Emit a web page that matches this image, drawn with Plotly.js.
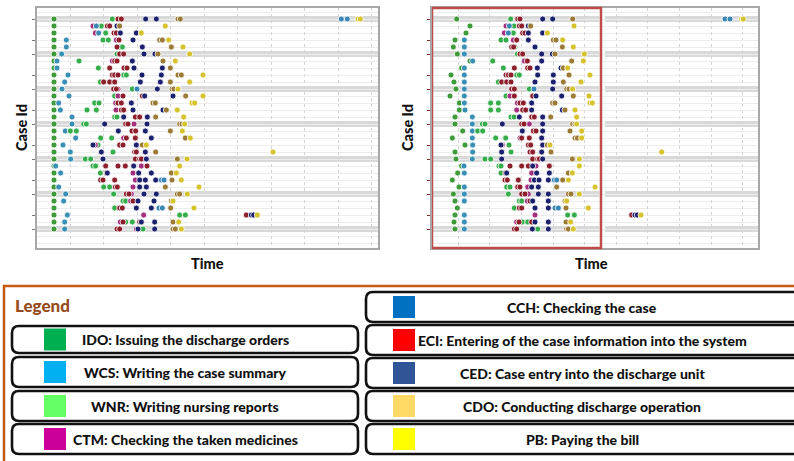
<!DOCTYPE html>
<html><head><meta charset="utf-8">
<script src="https://cdn.plot.ly/plotly-3.0.1.min.js"></script>
<style>html,body{margin:0;padding:0;background:#fff}#chart{width:794px;height:461px}</style>
</head><body><div id="chart"></div>
<script>
// ---- Data: [case id, time] pairs (time in arbitrary units) ----
// Left panel
const L_IDO = [[1,1.63],[2,1.63],[3,1.63],[4,1.63],[5,1.63],[6,1.63],[7,1.63],[8,1.63],[9,1.63],[10,1.63],[11,1.63],[12,1.63],[13,1.63],[14,1.63],[15,1.63],[16,1.63],[17,1.63],[18,1.63],[19,1.63],[20,1.63],[21,1.63],[22,1.63],[23,1.63],[24,1.63],[25,1.63],[26,1.63],[27,1.63],[28,1.63],[29,1.63],[30,1.63],[31,1.63]];
const L_WCS = [[4,2.00],[5,2.00],[6,1.86],[7,1.72],[8,1.72],[9,2.05],[10,1.95],[11,1.87],[12,2.08],[13,1.77],[14,1.82],[15,2.17],[16,2.17],[17,1.97],[18,2.28],[19,1.90],[20,2.12],[21,2.13],[22,1.68],[23,1.83],[25,1.77],[26,1.98],[27,1.92],[29,2.03],[30,1.95],[31,1.95]];
const L_WNR = [[1,3.38],[2,3.05],[3,3.18],[4,3.10],[4,3.26],[5,3.60],[5,3.68],[6,3.52],[7,2.38],[8,2.96],[9,3.72],[9,3.80],[10,3.02],[11,3.98],[12,3.45],[13,2.85],[13,2.98],[14,2.62],[14,2.90],[15,3.45],[15,3.52],[16,2.52],[16,2.60],[17,2.12],[17,2.30],[18,3.03],[18,3.36],[19,2.95],[20,3.40],[21,2.57],[21,2.73],[22,2.80],[22,2.88],[23,3.02],[25,3.12],[25,3.30],[26,3.42],[27,3.70],[27,3.78],[28,3.45],[29,5.40],[29,5.57],[30,3.78],[30,3.98],[31,4.30]];
const L_CTM = [[2,2.80],[3,2.87],[4,3.50],[7,3.38],[11,3.55],[12,3.55],[13,3.48],[14,3.49],[16,4.03],[18,3.72],[19,2.87],[22,4.25],[23,4.00],[24,4.07],[25,4.00],[26,3.95],[27,3.93],[29,4.32],[30,3.62],[31,4.10]];
const L_CCH = [[1,10.25],[1,10.43],[2,2.90],[3,2.97],[11,4.12],[24,4.85],[24,4.93],[28,4.78],[28,4.88]];
const L_ECI = [[1,3.55],[1,3.65],[2,3.23],[2,3.30],[3,3.43],[3,3.50],[4,3.58],[5,3.52],[6,3.60],[6,3.72],[7,3.45],[7,3.52],[8,3.30],[8,3.73],[8,3.82],[9,3.38],[9,3.45],[9,3.55],[10,3.12],[10,3.30],[10,3.45],[11,3.42],[11,3.50],[12,3.70],[12,4.28],[13,3.55],[13,3.65],[14,3.65],[14,3.72],[15,4.07],[15,4.20],[16,3.78],[16,3.85],[17,3.97],[17,4.08],[18,3.80],[18,4.07],[19,3.60],[19,3.70],[20,4.05],[20,4.10],[21,4.07],[21,4.20],[21,4.25],[22,3.18],[22,3.55],[22,3.77],[22,4.42],[23,3.20],[24,3.03],[24,3.10],[24,3.45],[25,3.47],[25,3.53],[26,3.80],[26,3.88],[27,4.00],[28,3.60],[28,3.68],[29,7.40],[30,3.70],[30,4.20],[31,3.52],[31,3.60]];
const L_CED = [[1,4.38],[1,4.70],[2,3.52],[3,3.62],[3,4.10],[4,4.00],[5,4.28],[6,4.33],[6,4.66],[7,3.98],[8,4.03],[8,4.88],[9,4.27],[9,4.85],[10,4.22],[10,4.82],[11,4.73],[12,4.35],[12,5.20],[13,3.95],[14,4.00],[14,4.90],[15,3.72],[15,4.43],[16,3.15],[16,4.42],[17,3.56],[17,4.37],[18,4.55],[19,2.80],[19,4.10],[20,3.05],[20,4.37],[21,3.10],[21,4.40],[22,4.02],[23,3.23],[23,4.17],[23,4.55],[24,4.20],[24,4.37],[24,4.68],[25,4.20],[25,4.40],[26,4.33],[26,4.70],[27,4.15],[27,4.63],[28,4.10],[28,4.55],[29,7.55],[29,7.62],[30,4.25],[30,4.65],[31,4.15],[31,4.65]];
const L_CDO = [[1,5.35],[1,5.42],[2,3.60],[4,4.80],[4,4.88],[5,5.15],[6,4.75],[7,4.90],[8,5.12],[9,5.35],[9,5.45],[10,5.12],[11,5.17],[11,5.23],[12,5.58],[13,4.60],[13,4.67],[14,5.00],[15,4.68],[16,5.40],[16,5.47],[17,5.12],[18,5.57],[19,4.28],[20,4.68],[21,5.33],[23,5.15],[24,5.17],[25,4.97],[26,5.33],[26,5.40],[27,5.15],[28,5.13],[30,5.20],[31,5.20],[31,5.27]];
const L_PB = [[1,10.75],[1,10.82],[2,4.97],[3,4.25],[4,5.07],[5,5.50],[6,5.70],[7,5.27],[9,6.10],[10,5.70],[11,5.35],[12,6.10],[13,5.77],[13,5.85],[14,5.33],[15,5.52],[16,5.55],[17,5.48],[18,5.72],[19,4.40],[20,8.20],[21,5.62],[22,5.40],[23,5.30],[24,5.45],[25,5.98],[26,5.63],[27,5.20],[28,5.83],[29,7.73],[30,5.37],[31,5.45]];
// Right panel
const R_IDO = [[1,1.85],[2,2.25],[3,2.13],[4,1.80],[5,1.75],[6,1.87],[7,2.25],[8,2.00],[9,1.68],[10,1.77],[11,1.83],[12,1.65],[13,1.93],[14,1.93],[15,1.80],[16,1.80],[17,2.03],[18,1.72],[19,2.10],[20,1.80],[21,1.83],[22,2.00],[23,1.88],[24,1.72],[25,1.92],[26,1.75],[27,1.80],[28,1.87],[29,1.80],[30,1.77],[31,1.80]];
const R_WCS = [[4,2.08],[5,2.08],[6,2.08],[7,2.33],[8,2.08],[9,2.08],[10,2.08],[11,2.08],[12,2.08],[13,2.08],[14,2.10],[15,2.32],[16,2.32],[17,2.32],[18,2.32],[19,2.33],[20,2.33],[21,2.32],[22,2.07],[23,2.08],[25,2.08],[26,2.08],[27,2.08],[29,2.08],[30,2.08],[31,2.08]];
const R_WNR = [[1,3.47],[2,3.57],[3,3.55],[4,3.18],[4,3.33],[5,3.60],[6,3.67],[7,2.93],[8,3.25],[9,3.65],[9,3.73],[10,3.10],[11,4.03],[12,3.33],[13,2.87],[13,3.10],[14,2.87],[14,3.10],[15,3.48],[15,3.57],[16,2.62],[16,2.70],[17,2.48],[17,2.63],[18,3.02],[18,3.32],[19,3.42],[20,3.48],[21,2.70],[21,2.87],[22,3.12],[22,3.18],[23,3.18],[25,3.35],[25,3.45],[26,3.40],[27,3.73],[27,3.80],[28,3.58],[29,5.18],[29,5.38],[30,3.82],[30,3.98],[31,4.28]];
const R_CTM = [[2,3.33],[3,3.28],[4,3.55],[7,3.88],[12,3.45],[13,3.67],[14,3.65],[16,4.03],[18,3.75],[19,3.22],[22,4.23],[23,4.10],[24,4.08],[25,3.98],[26,4.00],[27,3.97],[29,4.20],[30,3.65],[31,4.10]];
const R_CCH = [[1,9.90],[1,10.05],[2,3.43],[3,3.40],[11,4.17],[24,4.78],[24,4.85],[28,4.80],[28,4.90]];
const R_ECI = [[1,3.68],[1,3.75],[2,3.73],[2,3.80],[3,3.83],[3,3.90],[4,3.65],[5,3.50],[5,3.56],[6,3.75],[6,3.83],[7,3.97],[8,3.58],[8,3.98],[8,4.05],[9,3.33],[9,3.40],[9,3.48],[10,3.20],[10,3.35],[10,3.48],[11,3.50],[11,3.58],[12,3.58],[12,4.13],[13,3.75],[13,3.85],[14,3.83],[14,3.92],[15,4.10],[15,4.18],[16,3.80],[16,3.87],[17,4.15],[17,4.23],[18,3.80],[18,4.03],[19,4.00],[19,4.07],[20,4.05],[20,4.13],[21,4.13],[21,4.28],[21,4.33],[22,3.45],[22,3.80],[22,4.00],[22,4.63],[23,3.32],[24,3.30],[24,3.37],[24,3.70],[25,3.68],[25,3.75],[26,3.80],[26,3.90],[27,4.05],[28,3.73],[28,3.80],[29,7.10],[30,3.72],[30,4.10],[31,3.58],[31,3.65]];
const R_CED = [[1,4.43],[1,4.73],[2,4.00],[3,4.00],[3,4.43],[4,4.00],[5,4.20],[6,4.40],[6,4.72],[7,4.40],[8,4.27],[8,4.98],[9,4.28],[9,4.75],[10,4.20],[10,4.75],[11,4.73],[12,4.23],[12,5.00],[13,4.10],[14,4.10],[14,5.02],[15,3.73],[15,4.43],[16,3.22],[16,4.43],[17,3.82],[17,4.43],[18,4.40],[19,3.18],[19,4.43],[20,3.20],[20,4.40],[21,3.20],[21,4.43],[22,4.13],[23,3.35],[23,4.25],[23,4.63],[24,4.18],[24,4.32],[24,4.60],[25,4.10],[25,4.30],[26,4.30],[26,4.60],[27,4.13],[27,4.60],[28,4.20],[28,4.60],[29,7.20],[29,7.27],[30,4.20],[30,4.60],[31,4.12],[31,4.60]];
const R_CDO = [[1,5.33],[2,4.07],[4,4.75],[4,4.83],[5,5.02],[6,4.80],[7,5.30],[8,5.05],[9,5.22],[10,5.05],[11,5.15],[11,5.22],[12,5.35],[13,4.73],[13,4.80],[14,5.10],[15,4.67],[16,5.33],[16,5.40],[17,5.25],[18,5.40],[18,5.47],[19,4.57],[20,4.68],[21,5.32],[23,5.20],[24,5.03],[25,4.85],[26,5.20],[26,5.28],[27,5.10],[28,5.13],[30,5.13],[31,5.15],[31,5.20]];
const R_PB = [[1,10.40],[1,10.45],[2,5.37],[3,4.57],[4,5.03],[5,5.35],[6,5.68],[7,5.65],[8,5.18],[9,5.85],[10,5.58],[11,5.33],[12,5.82],[13,5.85],[13,5.92],[14,5.40],[15,5.45],[16,5.45],[17,5.60],[18,5.60],[19,4.65],[20,8.00],[21,5.53],[22,5.53],[23,5.32],[24,5.20],[25,6.00],[26,5.53],[27,5.15],[28,5.80],[29,7.38],[30,5.27],[31,5.35]];

const highlightEnd = 6.18; // time where the red selection box ends (right panel)
const stripeRows = [1,6,11,16,21,26,31];
const tickRows = [1,4,6,9,11,14,16,19,21,24,26,29,31];

const legendLeftCodes = ['IDO','WCS','WNR','CTM'];
const legendLeftText = ['IDO: Issuing the discharge orders','WCS: Writing the case summary','WNR: Writing nursing reports','CTM: Checking the taken medicines'];
const legendRightCodes = ['CCH','ECI','CED','CDO','PB'];
const legendRightText = ['CCH: Checking the case','ECI: Entering of the case information into the system','CED: Case entry into the discharge unit','CDO: Conducting discharge operation','PB: Paying the bill'];

// ---- Styles ----
const dotColor = {IDO:'#3f9a3a',WCS:'#3a8fb5',WNR:'#34ad4a',CTM:'#a3307c',CCH:'#3a87b5',ECI:'#8c1f2b',CED:'#1c216e',CDO:'#9b7a36',PB:'#d6c22c'};
const legendColor = {IDO:'#00b050',WCS:'#00b0f0',WNR:'#66ff66',CTM:'#cc0099',CCH:'#0070c0',ECI:'#ff0000',CED:'#2f5597',CDO:'#ffd966',PB:'#ffff00'};

const W = 794, H = 461;
const px = x => x / W, py = y => 1 - y / H;

function mk(data, code, xa, ya) {
  return {type:'scatter', mode:'markers', x:data.map(d=>d[1]), y:data.map(d=>d[0]), xaxis:xa, yaxis:ya,
    marker:{size:6, color:dotColor[code], line:{color:'#ffffff', width:0.8}}, showlegend:false, hoverinfo:'skip'};
}
const leftSets = {IDO:L_IDO,WCS:L_WCS,WNR:L_WNR,CTM:L_CTM,CCH:L_CCH,ECI:L_ECI,CED:L_CED,CDO:L_CDO,PB:L_PB};
const rightSets = {IDO:R_IDO,WCS:R_WCS,WNR:R_WNR,CTM:R_CTM,CCH:R_CCH,ECI:R_ECI,CED:R_CED,CDO:R_CDO,PB:R_PB};
const traces = [];
for (const c of Object.keys(leftSets)) traces.push(mk(leftSets[c], c, 'x', 'y'));
for (const c of Object.keys(rightSets)) traces.push(mk(rightSets[c], c, 'x2', 'y2'));

const yBase = {range:[33.71,-0.571], domain:[py(248), py(8)], showline:true, mirror:true, linecolor:'#a8a8a8', linewidth:2,
  tickmode:'array', tickvals:tickRows, ticks:'outside', ticklen:3, tickwidth:1, tickcolor:'#777', showticklabels:false,
  showgrid:true, gridcolor:'#ececec', zeroline:false, fixedrange:true,
  minor:{tickmode:'linear', tick0:1, dtick:1, showgrid:true, gridcolor:'#ececec', ticks:''}};
const xBase = {showline:true, mirror:true, linecolor:'#a8a8a8', linewidth:2, showgrid:true, gridcolor:'#d4d4d4', griddash:'dot',
  tickmode:'linear', ticks:'', showticklabels:false, zeroline:false, fixedrange:true};

const shapes = [];
for (const r of stripeRows) {
  shapes.push({type:'line', xref:'x domain', yref:'y', x0:0, x1:1, y0:r, y1:r, line:{color:'#d9d9d9', width:6}, layer:'below'});
  shapes.push({type:'line', xref:'x2', yref:'y2', x0:1.11, x1:highlightEnd-0.05, y0:r, y1:r, line:{color:'#d9d9d9', width:6}, layer:'below'});
  shapes.push({type:'line', xref:'x2', yref:'y2', x0:highlightEnd+0.12, x1:10.89, y0:r, y1:r, line:{color:'#d9d9d9', width:6}, layer:'below'});
}
shapes.push({type:'rect', xref:'x2', yref:'y2 domain', x0:1.11, x1:highlightEnd, y0:0, y1:1, line:{color:'#bf4b4a', width:2.5}, layer:'above'});

shapes.push({type:'rect', xref:'paper', yref:'paper', x0:px(4), x1:px(800), y0:py(467), y1:py(286), line:{color:'#c55a11', width:2.5}});
function rr(x0,y0,x1,y1,r){
  const P=(x,y)=>px(x)+','+py(y);
  return 'M'+P(x0+r,y0)+' L'+P(x1-r,y0)+' Q'+P(x1,y0)+' '+P(x1,y0+r)+' L'+P(x1,y1-r)+' Q'+P(x1,y1)+' '+P(x1-r,y1)+
    ' L'+P(x0+r,y1)+' Q'+P(x0,y1)+' '+P(x0,y1-r)+' L'+P(x0,y0+r)+' Q'+P(x0,y0)+' '+P(x0+r,y0)+' Z';
}
const annotations = [];
const legendFont = {family:'Lato, sans-serif', size:14, color:'#111', weight:900};
const leftBoxY = [[326,353],[357,387],[391,421],[424,454]];
const rightBoxY = [[292,322],[325,355],[358,388],[391,421],[424,454]];
legendLeftCodes.forEach((c,i)=>{
  const [a,b] = leftBoxY[i];
  shapes.push({type:'path', xref:'paper', yref:'paper', path:rr(12,a,358,b,7), line:{color:'#111', width:2.6}});
  const m=(a+b)/2;
  shapes.push({type:'rect', xref:'paper', yref:'paper', x0:px(44), x1:px(66), y0:py(m+11), y1:py(m-11), fillcolor:legendColor[c], line:{width:0}});
  annotations.push({xref:'paper', yref:'paper', x:px(185), y:py(m), xanchor:'center', yanchor:'middle', showarrow:false,
    text:legendLeftText[i], font:legendFont});
});
legendRightCodes.forEach((c,i)=>{
  const [a,b] = rightBoxY[i];
  shapes.push({type:'path', xref:'paper', yref:'paper', path:rr(366,a,800,b,7), line:{color:'#111', width:2.6}});
  const m=(a+b)/2;
  shapes.push({type:'rect', xref:'paper', yref:'paper', x0:px(393), x1:px(415), y0:py(m+11), y1:py(m-11), fillcolor:legendColor[c], line:{width:0}});
  annotations.push({xref:'paper', yref:'paper', x:px(582), y:py(m), xanchor:'center', yanchor:'middle', showarrow:false,
    text:legendRightText[i], font:legendFont});
});
annotations.push({xref:'paper', yref:'paper', x:px(13), y:py(305), xanchor:'left', yanchor:'middle', showarrow:false,
  text:'Legend', font:{family:'Lato, sans-serif', size:17, color:'#974a1a', weight:900}});
const axisFont = {family:'Lato, sans-serif', size:14.5, color:'#111', weight:900};
[[22,128],[408,128]].forEach(([x,y])=>annotations.push({xref:'paper', yref:'paper', x:px(x), y:py(y), xanchor:'center', yanchor:'middle',
  showarrow:false, textangle:-90, text:'Case Id', font:axisFont}));
[[207,263],[591,263]].forEach(([x,y])=>annotations.push({xref:'paper', yref:'paper', x:px(x), y:py(y), xanchor:'center', yanchor:'middle',
  showarrow:false, text:'Time', font:axisFont}));

const layout = {
  width:W, height:H, margin:{l:0,r:0,t:0,b:0}, paper_bgcolor:'#ffffff', plot_bgcolor:'#ffffff', showlegend:false,
  xaxis:Object.assign({}, xBase, {domain:[px(37), px(378)], range:[1.12, 11.35], tick0:2.12, dtick:1.005, anchor:'y'}),
  yaxis:Object.assign({}, yBase, {anchor:'x'}),
  xaxis2:Object.assign({}, xBase, {domain:[px(432), px(758)], range:[1.11, 10.89], tick0:1.90, dtick:0.948, anchor:'y2'}),
  yaxis2:Object.assign({}, yBase, {anchor:'x2', tickcolor:'#8b2a2a'}),
  shapes:shapes, annotations:annotations
};
Plotly.newPlot('chart', traces, layout, {staticPlot:true, displayModeBar:false});
</script></body></html>
